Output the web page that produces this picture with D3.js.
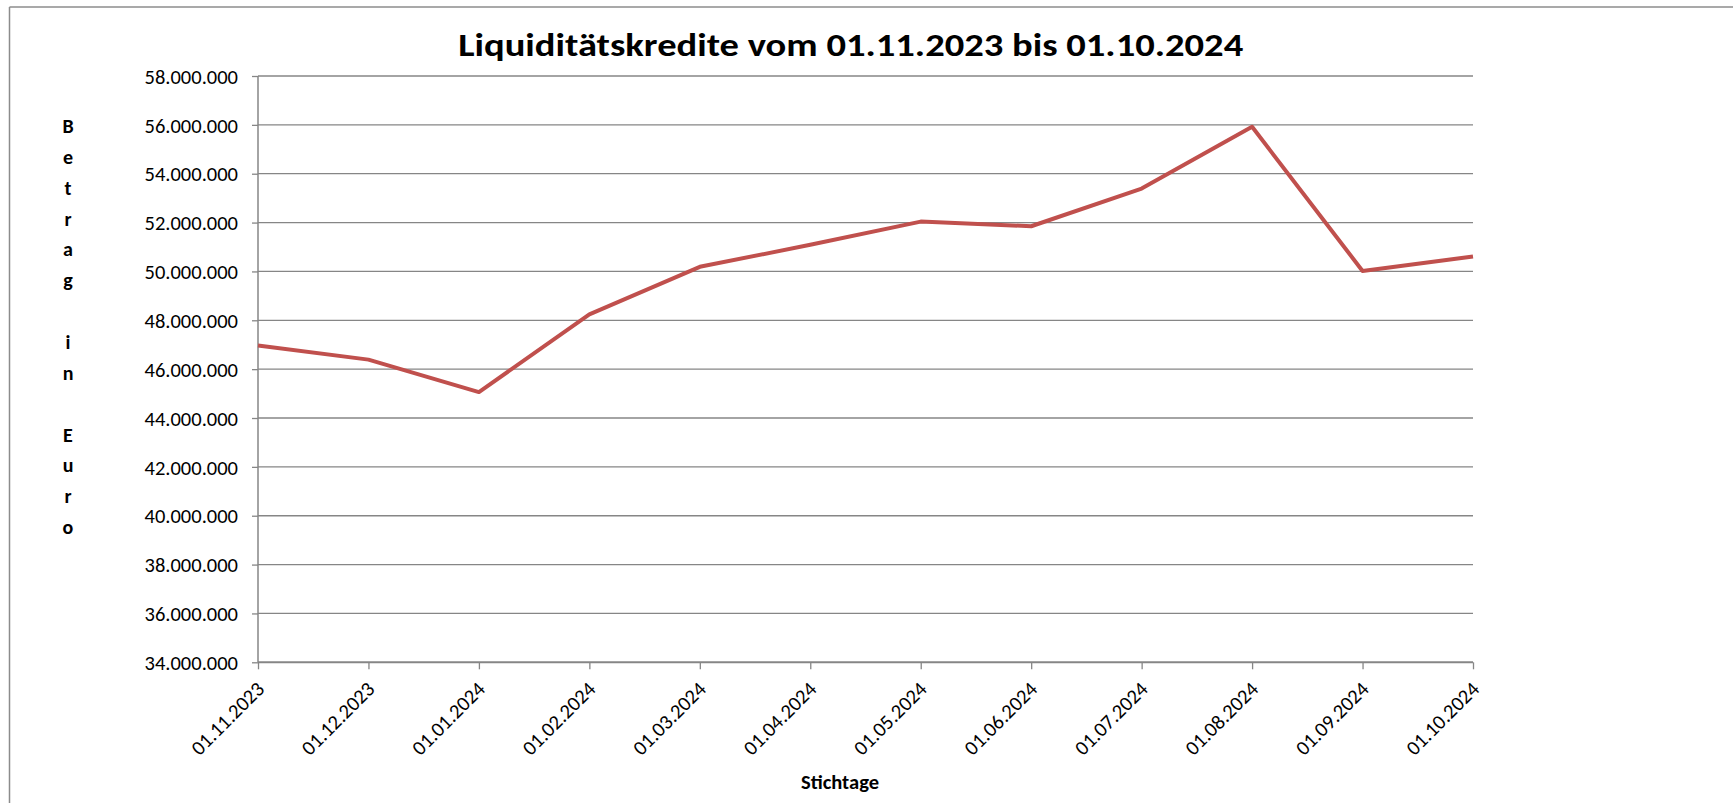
<!DOCTYPE html>
<html>
<head>
<meta charset="utf-8">
<script src="https://cdn.jsdelivr.net/npm/d3@7"></script>
<style>
  body { margin: 0; background: #fff; }
  svg { display: block; font-family: Carlito, Lato, "Open Sans", sans-serif; }
  .tick text { font-size: 20.5px; fill: #000; }
  .axis path, .axis line { stroke: #868686; }
</style>
</head>
<body>
<div id="chart"></div>
<script>
// data
const dates = ["01.11.2023", "01.12.2023", "01.01.2024", "01.02.2024", "01.03.2024", "01.04.2024",
  "01.05.2024", "01.06.2024", "01.07.2024", "01.08.2024", "01.09.2024", "01.10.2024"];
const amounts = [46970000, 46390000, 45060000, 48240000, 50190000, 51090000,
  52040000, 51850000, 53390000, 55920000, 50020000, 50610000];
const yTicks = [34e6, 36e6, 38e6, 40e6, 42e6, 44e6, 46e6, 48e6, 50e6, 52e6, 54e6, 56e6, 58e6];
const titleText = "Liquiditätskredite vom 01.11.2023 bis 01.10.2024";
const yLabel = "Betrag in Euro";
const xLabel = "Stichtage";

const W = 1733, H = 803;
const plot = { left: 258, right: 1473, top: 76, bottom: 662.3 };

const de = d3.formatLocale({ decimal: ",", thousands: ".", grouping: [3], currency: ["", " €"] });
const fmt = de.format(",d");

const svg = d3.select("#chart").append("svg")
  .attr("width", W)
  .attr("height", H);

// outer frame (top + left edge visible)
svg.append("line").attr("x1", 9.5).attr("x2", W).attr("y1", 7).attr("y2", 7)
  .attr("stroke", "#8c8c8c").attr("stroke-width", 1.5);
svg.append("line").attr("x1", 9.5).attr("x2", 9.5).attr("y1", 7).attr("y2", H)
  .attr("stroke", "#8c8c8c").attr("stroke-width", 1.5);

const x = d3.scalePoint()
  .domain(dates)
  .range([plot.left, plot.right]);
const y = d3.scaleLinear()
  .domain([34e6, 58e6])
  .range([plot.bottom, plot.top]);

// gridlines
svg.append("g")
  .selectAll("line")
  .data(yTicks.slice(1))
  .join("line")
  .attr("x1", plot.left).attr("x2", plot.right)
  .attr("y1", d => y(d)).attr("y2", d => y(d))
  .attr("stroke", "#868686")
  .attr("stroke-width", 1.3);

// y axis
const yAxis = svg.append("g")
  .attr("class", "axis")
  .attr("transform", `translate(${plot.left},0)`)
  .call(d3.axisLeft(y).tickValues(yTicks).tickFormat(fmt).tickSize(6).tickPadding(14));
yAxis.attr("font-family", null).attr("font-size", null);
yAxis.select(".domain").attr("stroke-width", 1.5).attr("d", `M0,${plot.top}V${plot.bottom}`);
yAxis.selectAll(".tick line").attr("stroke-width", 1.3);
yAxis.selectAll(".tick text").attr("dy", "0.35em");

// x axis
const xAxis = svg.append("g")
  .attr("class", "axis")
  .attr("transform", `translate(0,${plot.bottom})`)
  .call(d3.axisBottom(x).tickSize(7).tickSizeOuter(0));
xAxis.attr("font-family", null).attr("font-size", null);
xAxis.select(".domain").attr("stroke-width", 2).attr("d", `M${plot.left},0H${plot.right}`);
xAxis.selectAll(".tick line").attr("stroke-width", 1.3);
xAxis.selectAll(".tick text")
  .attr("text-anchor", "end")
  .attr("y", 0)
  .attr("dy", 0)
  .attr("transform", "translate(7,28) rotate(-45)");

// series line
svg.append("path")
  .datum(dates.map((d, i) => [d, amounts[i]]))
  .attr("fill", "none")
  .attr("stroke", "#C0504D")
  .attr("stroke-width", 4)
  .attr("stroke-linejoin", "round")
  .attr("d", d3.line().x(d => x(d[0])).y(d => y(d[1])));

// title
svg.append("text")
  .attr("x", 850.7)
  .attr("y", 56)
  .attr("text-anchor", "middle")
  .attr("font-weight", "bold")
  .attr("font-size", 33)
  .attr("textLength", 785)
  .attr("lengthAdjust", "spacingAndGlyphs")
  .text(titleText);

// vertical axis label, one letter per line
svg.append("g")
  .selectAll("text")
  .data(yLabel.split(""))
  .join("text")
  .attr("x", 68)
  .attr("y", (d, i) => 133 + i * 30.85)
  .attr("text-anchor", "middle")
  .attr("font-weight", "bold")
  .attr("font-size", 20)
  .text(d => d.trim());

// x axis title
svg.append("text")
  .attr("x", 840)
  .attr("y", 789)
  .attr("text-anchor", "middle")
  .attr("font-weight", "bold")
  .attr("font-size", 20.5)
  .text(xLabel);
</script>
</body>
</html>
